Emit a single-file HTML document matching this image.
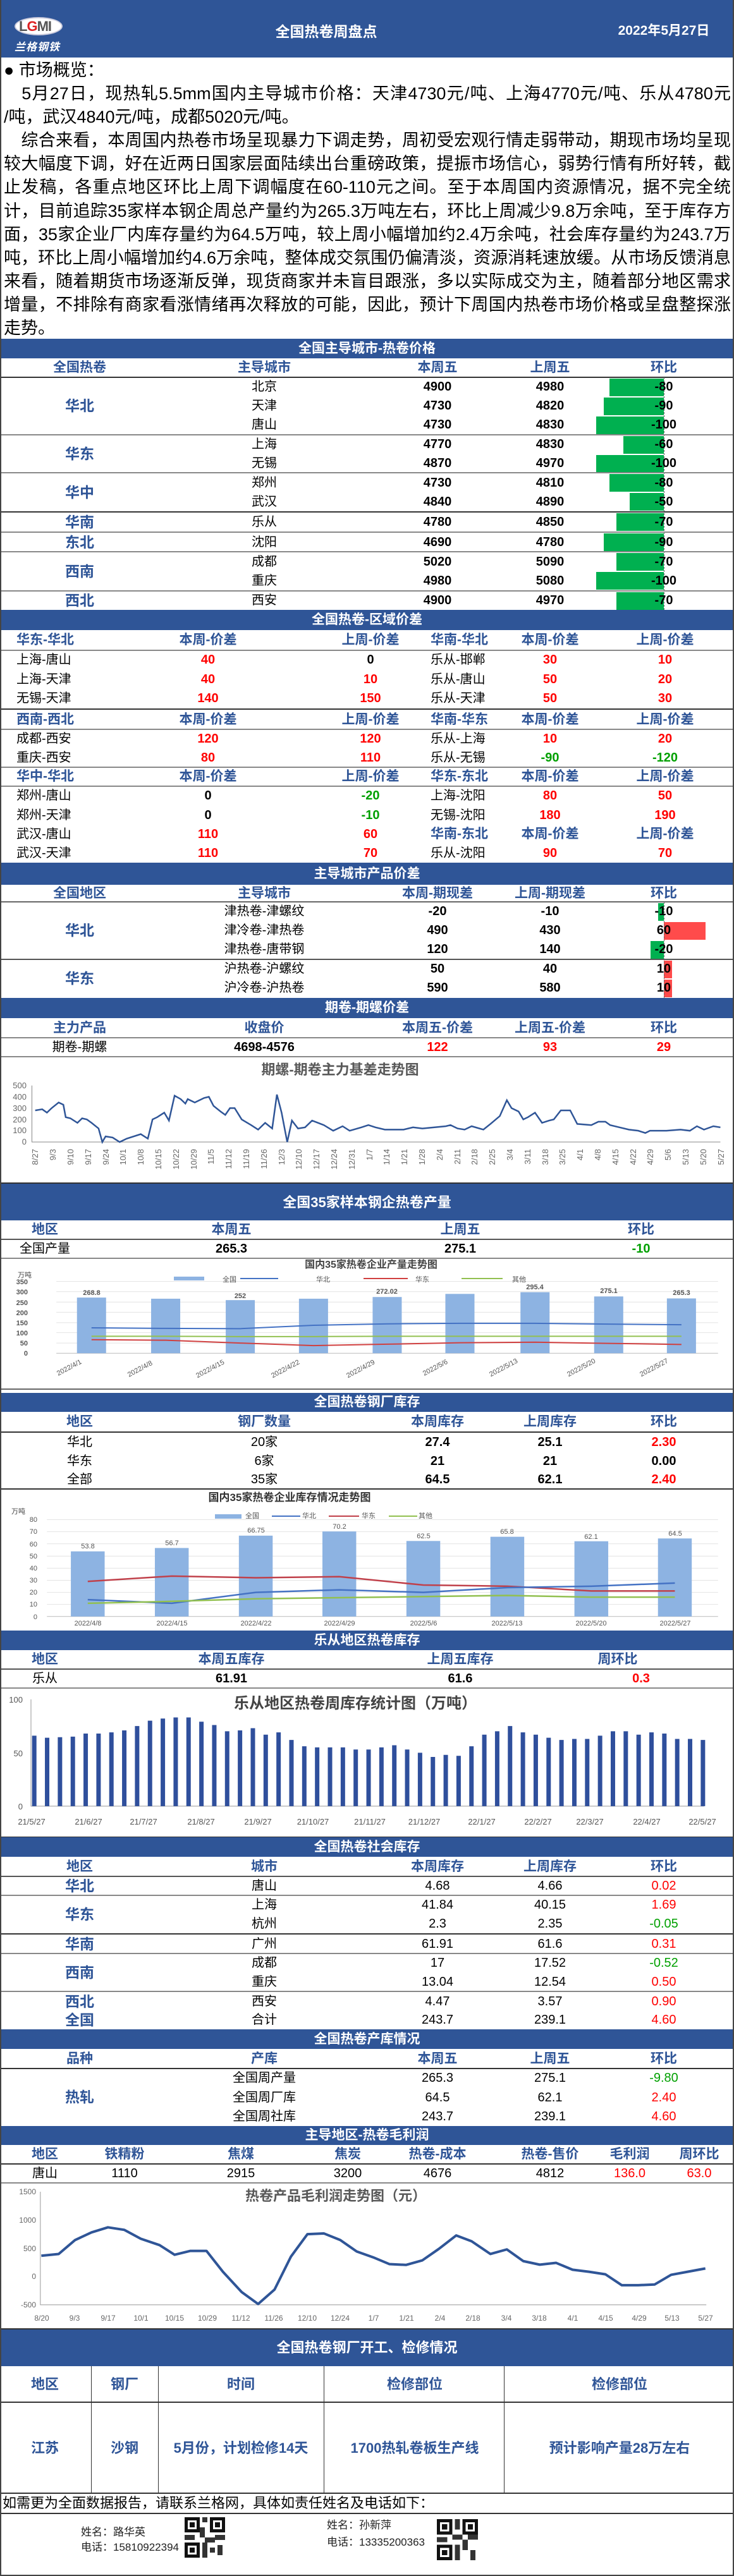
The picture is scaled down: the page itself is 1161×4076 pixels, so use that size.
<!DOCTYPE html>
<html><head><meta charset="utf-8">
<style>
*{margin:0;padding:0;box-sizing:border-box}
body{width:1161px;height:4076px;position:relative;background:#fff;overflow:hidden;font-family:"Liberation Sans Narrow","Liberation Sans","Noto Sans CJK SC",sans-serif;font-size:20px;color:#000}
.a{position:absolute;left:0;width:1161px}
.c{position:absolute;top:0;transform:translateX(-50%);white-space:nowrap}
.l{position:absolute;top:0;white-space:nowrap}
.band{background:#2f5597;color:#fff;font-weight:bold;text-align:center;font-size:21px}
.hd{color:#2f5597;font-weight:bold;font-size:21px}
.rg{color:#2f5597;font-weight:bold;font-size:23px}
.b{font-weight:bold}
.red{color:#f00}.grn{color:#00a000}
.ln{position:absolute;left:0;width:1161px;height:2px;background:#555}
.gb{position:absolute;background:#00b050}
.rb{position:absolute;background:#ff4b4b}
.p{position:absolute;left:6px;width:1150px;font-family:"Liberation Sans","Noto Sans CJK SC",sans-serif;font-size:27px;line-height:37px;white-space:nowrap;text-align:justify;text-align-last:justify}
svg text{font-family:"Liberation Sans","Noto Sans CJK SC",sans-serif}
</style></head><body>
<div style="position:absolute;left:0;top:0;width:1161px;height:4076px;border-left:2px solid #444;border-right:2px solid #444;border-bottom:2px solid #444;z-index:5;pointer-events:none"></div>

<!-- header -->
<div class="a" style="top:0;height:91px;background:#2f5597"></div>
<div style="position:absolute;left:23px;top:27px;width:76px;height:29px;border-radius:50%;background:#fff;border:2px solid #ccd"></div>
<div style="position:absolute;left:30px;top:29px;font:bold 22px 'Liberation Sans',sans-serif;color:#555;letter-spacing:-1px">L<span style="color:#d22">G</span>MI</div>
<div style="position:absolute;left:23px;top:60px;font:bold italic 17px 'Noto Sans CJK SC',sans-serif;color:#fff;letter-spacing:1px">兰格钢铁</div>
<div class="c" style="left:516px;top:31px;color:#fff;font-weight:bold;font-size:23px">全国热卷周盘点</div>
<div class="c" style="left:1050px;top:32px;color:#fff;font-weight:bold;font-size:21px">2022年5月27日</div>

<!-- paragraph -->
<div class="p" style="top:93px;text-align:left;text-align-last:left">● 市场概览：</div>
<div class="p" style="top:130px">　5月27日，现热轧5.5mm国内主导城市价格：天津4730元/吨、上海4770元/吨、乐从4780元</div>
<div class="p" style="top:167px;text-align:left;text-align-last:left">/吨，武汉4840元/吨，成都5020元/吨。</div>
<div class="p" style="top:204px">　综合来看，本周国内热卷市场呈现暴力下调走势，周初受宏观行情走弱带动，期现市场均呈现</div>
<div class="p" style="top:241px">较大幅度下调，好在近两日国家层面陆续出台重磅政策，提振市场信心，弱势行情有所好转，截</div>
<div class="p" style="top:278px">止发稿，各重点地区环比上周下调幅度在60-110元之间。至于本周国内资源情况，据不完全统</div>
<div class="p" style="top:316px">计，目前追踪35家样本钢企周总产量约为265.3万吨左右，环比上周减少9.8万余吨，至于库存方</div>
<div class="p" style="top:353px">面，35家企业厂内库存量约为64.5万吨，较上周小幅增加约2.4万余吨，社会库存量约为243.7万</div>
<div class="p" style="top:390px">吨，环比上周小幅增加约4.6万余吨，整体成交氛围仍偏清淡，资源消耗速放缓。从市场反馈消息</div>
<div class="p" style="top:427px">来看，随着期货市场逐渐反弹，现货商家并未盲目跟涨，多以实际成交为主，随着部分地区需求</div>
<div class="p" style="top:464px">增量，不排除有商家看涨情绪再次释放的可能，因此，预计下周国内热卷市场价格或呈盘整探涨</div>
<div class="p" style="top:501px;text-align:left;text-align-last:left">走势。</div>

<!-- main price table -->
<div class="a band" style="top:536px;height:31px;line-height:31px">全国主导城市-热卷价格</div>
<div class="a hd" style="top:567px;height:30px;line-height:30px"><span class="c" style="left:126px">全国热卷</span><span class="c" style="left:418px">主导城市</span><span class="c" style="left:692px">本周五</span><span class="c" style="left:870px">上周五</span><span class="c" style="left:1050px">环比</span></div>
<div class="ln" style="top:596px;background:#333"></div>
<!-- bars -->
<div class="gb" style="left:964px;top:599px;width:86px;height:28px"></div>
<div class="gb" style="left:955px;top:629px;width:95px;height:28px"></div>
<div class="gb" style="left:943px;top:659px;width:107px;height:28px"></div>
<div class="gb" style="left:986px;top:690px;width:64px;height:28px"></div>
<div class="gb" style="left:943px;top:720px;width:107px;height:28px"></div>
<div class="gb" style="left:964px;top:750px;width:86px;height:28px"></div>
<div class="gb" style="left:996px;top:780px;width:54px;height:28px"></div>
<div class="gb" style="left:975px;top:812px;width:75px;height:28px"></div>
<div class="gb" style="left:955px;top:844px;width:95px;height:28px"></div>
<div class="gb" style="left:975px;top:875px;width:75px;height:28px"></div>
<div class="gb" style="left:943px;top:905px;width:107px;height:28px"></div>
<div class="gb" style="left:975px;top:937px;width:75px;height:28px"></div>
<div style="position:absolute;left:1050px;top:597px;height:368px;border-left:1px dashed #666"></div>
<div class="a rg" style="top:597px;height:91px;line-height:91px"><span class="c" style="left:126px">华北</span></div>
<div class="a" style="top:597px;height:30px;line-height:30px"><span class="c" style="left:418px">北京</span><span class="c b" style="left:692px">4900</span><span class="c b" style="left:870px">4980</span><span class="c b" style="left:1050px">-80</span></div>
<div class="a" style="top:627px;height:30px;line-height:30px"><span class="c" style="left:418px">天津</span><span class="c b" style="left:692px">4730</span><span class="c b" style="left:870px">4820</span><span class="c b" style="left:1050px">-90</span></div>
<div class="a" style="top:657px;height:30px;line-height:30px"><span class="c" style="left:418px">唐山</span><span class="c b" style="left:692px">4730</span><span class="c b" style="left:870px">4830</span><span class="c b" style="left:1050px">-100</span></div>
<div class="ln" style="top:687px;background:#888"></div>
<div class="a rg" style="top:688px;height:60px;line-height:60px"><span class="c" style="left:126px">华东</span></div>
<div class="a" style="top:688px;height:30px;line-height:30px"><span class="c" style="left:418px">上海</span><span class="c b" style="left:692px">4770</span><span class="c b" style="left:870px">4830</span><span class="c b" style="left:1050px">-60</span></div>
<div class="a" style="top:718px;height:30px;line-height:30px"><span class="c" style="left:418px">无锡</span><span class="c b" style="left:692px">4870</span><span class="c b" style="left:870px">4970</span><span class="c b" style="left:1050px">-100</span></div>
<div class="ln" style="top:747px;background:#888"></div>
<div class="a rg" style="top:748px;height:62px;line-height:62px"><span class="c" style="left:126px">华中</span></div>
<div class="a" style="top:749px;height:30px;line-height:30px"><span class="c" style="left:418px">郑州</span><span class="c b" style="left:692px">4730</span><span class="c b" style="left:870px">4810</span><span class="c b" style="left:1050px">-80</span></div>
<div class="a" style="top:779px;height:30px;line-height:30px"><span class="c" style="left:418px">武汉</span><span class="c b" style="left:692px">4840</span><span class="c b" style="left:870px">4890</span><span class="c b" style="left:1050px">-50</span></div>
<div class="ln" style="top:809px;background:#333"></div>
<div class="a" style="top:811px;height:31px;line-height:31px"><span class="c rg" style="left:126px">华南</span><span class="c" style="left:418px">乐从</span><span class="c b" style="left:692px">4780</span><span class="c b" style="left:870px">4850</span><span class="c b" style="left:1050px">-70</span></div>
<div class="ln" style="top:841px;background:#888"></div>
<div class="a" style="top:843px;height:30px;line-height:30px"><span class="c rg" style="left:126px">东北</span><span class="c" style="left:418px">沈阳</span><span class="c b" style="left:692px">4690</span><span class="c b" style="left:870px">4780</span><span class="c b" style="left:1050px">-90</span></div>
<div class="ln" style="top:872px;background:#888"></div>
<div class="a rg" style="top:873px;height:62px;line-height:62px"><span class="c" style="left:126px">西南</span></div>
<div class="a" style="top:874px;height:30px;line-height:30px"><span class="c" style="left:418px">成都</span><span class="c b" style="left:692px">5020</span><span class="c b" style="left:870px">5090</span><span class="c b" style="left:1050px">-70</span></div>
<div class="a" style="top:904px;height:30px;line-height:30px"><span class="c" style="left:418px">重庆</span><span class="c b" style="left:692px">4980</span><span class="c b" style="left:870px">5080</span><span class="c b" style="left:1050px">-100</span></div>
<div class="ln" style="top:934px;background:#888"></div>
<div class="a" style="top:936px;height:29px;line-height:29px"><span class="c rg" style="left:126px">西北</span><span class="c" style="left:418px">西安</span><span class="c b" style="left:692px">4900</span><span class="c b" style="left:870px">4970</span><span class="c b" style="left:1050px">-70</span></div>

<!-- regional spread -->
<div class="a band" style="top:965px;height:32px;line-height:32px">全国热卷-区域价差</div>
<div class="a hd" style="top:997px;height:31px;line-height:31px"><span class="l" style="left:26px">华东-华北</span><span class="c" style="left:329px">本周-价差</span><span class="c" style="left:586px">上周-价差</span><span class="l" style="left:681px">华南-华北</span><span class="c" style="left:870px">本周-价差</span><span class="c" style="left:1052px">上周-价差</span></div>
<div class="ln" style="top:1028px;background:#888"></div>
<div class="a b" style="top:1029px;height:31px;line-height:31px"><span class="l" style="left:26px;font-weight:normal">上海-唐山</span><span class="c red" style="left:329px">40</span><span class="c" style="left:586px">0</span><span class="l" style="left:681px;font-weight:normal">乐从-邯郸</span><span class="c red" style="left:870px">30</span><span class="c red" style="left:1052px">10</span></div>
<div class="a b" style="top:1060px;height:30px;line-height:30px"><span class="l" style="left:26px;font-weight:normal">上海-天津</span><span class="c red" style="left:329px">40</span><span class="c red" style="left:586px">10</span><span class="l" style="left:681px;font-weight:normal">乐从-唐山</span><span class="c red" style="left:870px">50</span><span class="c red" style="left:1052px">20</span></div>
<div class="a b" style="top:1090px;height:31px;line-height:31px"><span class="l" style="left:26px;font-weight:normal">无锡-天津</span><span class="c red" style="left:329px">140</span><span class="c red" style="left:586px">150</span><span class="l" style="left:681px;font-weight:normal">乐从-天津</span><span class="c red" style="left:870px">50</span><span class="c red" style="left:1052px">30</span></div>
<div class="ln" style="top:1121px;background:#333"></div>
<div class="a hd" style="top:1123px;height:31px;line-height:31px"><span class="l" style="left:26px">西南-西北</span><span class="c" style="left:329px">本周-价差</span><span class="c" style="left:586px">上周-价差</span><span class="l" style="left:681px">华南-华东</span><span class="c" style="left:870px">本周-价差</span><span class="c" style="left:1052px">上周-价差</span></div>
<div class="ln" style="top:1153px;background:#888"></div>
<div class="a b" style="top:1154px;height:30px;line-height:30px"><span class="l" style="left:26px;font-weight:normal">成都-西安</span><span class="c red" style="left:329px">120</span><span class="c red" style="left:586px">120</span><span class="l" style="left:681px;font-weight:normal">乐从-上海</span><span class="c red" style="left:870px">10</span><span class="c red" style="left:1052px">20</span></div>
<div class="a b" style="top:1184px;height:30px;line-height:30px"><span class="l" style="left:26px;font-weight:normal">重庆-西安</span><span class="c red" style="left:329px">80</span><span class="c red" style="left:586px">110</span><span class="l" style="left:681px;font-weight:normal">乐从-无锡</span><span class="c grn" style="left:870px">-90</span><span class="c grn" style="left:1052px">-120</span></div>
<div class="ln" style="top:1213px;background:#888"></div>
<div class="a hd" style="top:1214px;height:30px;line-height:30px"><span class="l" style="left:26px">华中-华北</span><span class="c" style="left:329px">本周-价差</span><span class="c" style="left:586px">上周-价差</span><span class="l" style="left:681px">华东-东北</span><span class="c" style="left:870px">本周-价差</span><span class="c" style="left:1052px">上周-价差</span></div>
<div class="ln" style="top:1243px;background:#888"></div>
<div class="a b" style="top:1244px;height:31px;line-height:31px"><span class="l" style="left:26px;font-weight:normal">郑州-唐山</span><span class="c" style="left:329px">0</span><span class="c grn" style="left:586px">-20</span><span class="l" style="left:681px;font-weight:normal">上海-沈阳</span><span class="c red" style="left:870px">80</span><span class="c red" style="left:1052px">50</span></div>
<div class="a b" style="top:1275px;height:30px;line-height:30px"><span class="l" style="left:26px;font-weight:normal">郑州-天津</span><span class="c" style="left:329px">0</span><span class="c grn" style="left:586px">-10</span><span class="l" style="left:681px;font-weight:normal">无锡-沈阳</span><span class="c red" style="left:870px">180</span><span class="c red" style="left:1052px">190</span></div>
<div class="a b" style="top:1305px;height:30px;line-height:30px"><span class="l" style="left:26px;font-weight:normal">武汉-唐山</span><span class="c red" style="left:329px">110</span><span class="c red" style="left:586px">60</span><span class="l hd" style="left:681px">华南-东北</span><span class="c hd" style="left:870px">本周-价差</span><span class="c hd" style="left:1052px">上周-价差</span></div>
<div class="a b" style="top:1335px;height:30px;line-height:30px"><span class="l" style="left:26px;font-weight:normal">武汉-天津</span><span class="c red" style="left:329px">110</span><span class="c red" style="left:586px">70</span><span class="l" style="left:681px;font-weight:normal">乐从-沈阳</span><span class="c red" style="left:870px">90</span><span class="c red" style="left:1052px">70</span></div>

<!-- product spread -->
<div class="a band" style="top:1365px;height:35px;line-height:35px">主导城市产品价差</div>
<div class="a hd" style="top:1400px;height:27px;line-height:27px"><span class="c" style="left:126px">全国地区</span><span class="c" style="left:418px">主导城市</span><span class="c" style="left:692px">本周-期现差</span><span class="c" style="left:870px">上周-期现差</span><span class="c" style="left:1050px">环比</span></div>
<div class="ln" style="top:1426px;background:#666"></div>
<div class="gb" style="left:1041px;top:1429px;width:9px;height:28px"></div>
<div class="rb" style="left:1050px;top:1459px;width:66px;height:28px"></div>
<div class="gb" style="left:1029px;top:1489px;width:21px;height:28px"></div>
<div class="rb" style="left:1050px;top:1520px;width:13px;height:28px"></div>
<div class="rb" style="left:1050px;top:1550px;width:13px;height:28px"></div>
<div style="position:absolute;left:1050px;top:1427px;height:152px;border-left:1px dashed #666"></div>
<div class="a rg" style="top:1427px;height:91px;line-height:91px"><span class="c" style="left:126px">华北</span></div>
<div class="a" style="top:1427px;height:31px;line-height:31px"><span class="c" style="left:418px">津热卷-津螺纹</span><span class="c b" style="left:692px">-20</span><span class="c b" style="left:870px">-10</span><span class="c b" style="left:1050px">-10</span></div>
<div class="a" style="top:1457px;height:31px;line-height:31px"><span class="c" style="left:418px">津冷卷-津热卷</span><span class="c b" style="left:692px">490</span><span class="c b" style="left:870px">430</span><span class="c b" style="left:1050px">60</span></div>
<div class="a" style="top:1487px;height:31px;line-height:31px"><span class="c" style="left:418px">津热卷-唐带钢</span><span class="c b" style="left:692px">120</span><span class="c b" style="left:870px">140</span><span class="c b" style="left:1050px">-20</span></div>
<div class="ln" style="top:1517px;background:#555"></div>
<div class="a rg" style="top:1518px;height:61px;line-height:61px"><span class="c" style="left:126px">华东</span></div>
<div class="a" style="top:1518px;height:31px;line-height:31px"><span class="c" style="left:418px">沪热卷-沪螺纹</span><span class="c b" style="left:692px">50</span><span class="c b" style="left:870px">40</span><span class="c b" style="left:1050px">10</span></div>
<div class="a" style="top:1548px;height:31px;line-height:31px"><span class="c" style="left:418px">沪冷卷-沪热卷</span><span class="c b" style="left:692px">590</span><span class="c b" style="left:870px">580</span><span class="c b" style="left:1050px">10</span></div>

<!-- futures spread -->
<div class="a band" style="top:1579px;height:32px;line-height:32px">期卷-期螺价差</div>
<div class="a hd" style="top:1611px;height:31px;line-height:31px"><span class="c" style="left:126px">主力产品</span><span class="c" style="left:418px">收盘价</span><span class="c" style="left:692px">本周五-价差</span><span class="c" style="left:870px">上周五-价差</span><span class="c" style="left:1050px">环比</span></div>
<div class="ln" style="top:1641px;background:#888"></div>
<div class="a b" style="top:1642px;height:30px;line-height:30px"><span class="c" style="left:126px;font-weight:normal">期卷-期螺</span><span class="c" style="left:418px">4698-4576</span><span class="c red" style="left:692px">122</span><span class="c red" style="left:870px">93</span><span class="c red" style="left:1050px">29</span></div>
<div class="ln" style="top:1671px;background:#888"></div>

<!-- chart 1 -->
<svg style="position:absolute;left:0;top:1672px" width="1161" height="199">
<text x="538" y="28" text-anchor="middle" font-size="22" font-weight="bold" fill="#595959">期螺-期卷主力基差走势图</text>
<g font-size="13" fill="#666" text-anchor="end">
<text x="42" y="50">500</text><text x="42" y="68">400</text><text x="42" y="86">300</text><text x="42" y="104">200</text><text x="42" y="121">100</text><text x="42" y="139">0</text>
</g>
<svg x="0" y="0" width="1161" height="199" viewBox="0 608 1564 445" preserveAspectRatio="none">
<path d="M68 710V910H1535" fill="none" stroke="#888" stroke-width="1" vector-effect="non-scaling-stroke"/>
<polyline fill="none" stroke="#2f5597" stroke-width="2.5" vector-effect="non-scaling-stroke" points="75,798 90,794 100,806 110,790 125,770 135,778 140,822 150,826 165,842 175,826 185,830 195,842 210,862 218,910 225,890 240,894 255,910 270,898 300,882 315,898 325,830 335,822 350,806 360,834 372,746 385,758 395,774 400,758 415,770 425,762 435,754 445,750 455,782 470,802 480,814 490,790 500,790 515,830 535,850 550,866 565,842 580,862 590,742 600,806 612,910 622,834 635,862 650,858 665,834 690,850 710,870 730,854 745,870 770,858 785,850 800,858 820,866 860,866 880,858 900,862 950,854 960,850 975,862 990,866 1005,854 1030,866 1045,846 1065,818 1080,762 1090,790 1105,802 1115,830 1125,822 1140,806 1155,842 1170,834 1180,830 1195,798 1215,798 1230,846 1260,850 1275,838 1290,838 1300,850 1320,858 1340,866 1360,870 1375,878 1385,870 1420,870 1450,866 1470,870 1485,854 1500,866 1520,854 1535,858"/>
</svg>
<g font-size="13" fill="#666" text-anchor="end">
<text transform="translate(60,146) rotate(-90)">8/27</text><text transform="translate(88,146) rotate(-90)">9/3</text><text transform="translate(116,146) rotate(-90)">9/10</text><text transform="translate(144,146) rotate(-90)">9/17</text><text transform="translate(172,146) rotate(-90)">9/24</text><text transform="translate(199,146) rotate(-90)">10/1</text><text transform="translate(227,146) rotate(-90)">10/8</text><text transform="translate(255,146) rotate(-90)">10/15</text><text transform="translate(283,146) rotate(-90)">10/22</text><text transform="translate(311,146) rotate(-90)">10/29</text><text transform="translate(338,146) rotate(-90)">11/5</text><text transform="translate(366,146) rotate(-90)">11/12</text><text transform="translate(394,146) rotate(-90)">11/19</text><text transform="translate(422,146) rotate(-90)">11/26</text><text transform="translate(450,146) rotate(-90)">12/3</text><text transform="translate(477,146) rotate(-90)">12/10</text><text transform="translate(505,146) rotate(-90)">12/17</text><text transform="translate(533,146) rotate(-90)">12/24</text><text transform="translate(561,146) rotate(-90)">12/31</text><text transform="translate(589,146) rotate(-90)">1/7</text><text transform="translate(616,146) rotate(-90)">1/14</text><text transform="translate(644,146) rotate(-90)">1/21</text><text transform="translate(672,146) rotate(-90)">1/28</text><text transform="translate(700,146) rotate(-90)">2/4</text><text transform="translate(728,146) rotate(-90)">2/11</text><text transform="translate(755,146) rotate(-90)">2/18</text><text transform="translate(783,146) rotate(-90)">2/25</text><text transform="translate(811,146) rotate(-90)">3/4</text><text transform="translate(839,146) rotate(-90)">3/11</text><text transform="translate(867,146) rotate(-90)">3/18</text><text transform="translate(894,146) rotate(-90)">3/25</text><text transform="translate(922,146) rotate(-90)">4/1</text><text transform="translate(950,146) rotate(-90)">4/8</text><text transform="translate(978,146) rotate(-90)">4/15</text><text transform="translate(1006,146) rotate(-90)">4/22</text><text transform="translate(1033,146) rotate(-90)">4/29</text><text transform="translate(1061,146) rotate(-90)">5/6</text><text transform="translate(1089,146) rotate(-90)">5/13</text><text transform="translate(1117,146) rotate(-90)">5/20</text><text transform="translate(1145,146) rotate(-90)">5/27</text>
</g>
</svg>

<!-- production -->
<div class="a band" style="top:1871px;height:60px;line-height:60px;font-size:22px;border-top:2px solid #333">全国35家样本钢企热卷产量</div>
<div class="a hd" style="top:1931px;height:30px;line-height:30px"><span class="c" style="left:71px">地区</span><span class="c" style="left:366px">本周五</span><span class="c" style="left:728px">上周五</span><span class="c" style="left:1014px">环比</span></div>
<div class="ln" style="top:1960px;background:#555"></div>
<div class="a b" style="top:1961px;height:30px;line-height:30px"><span class="c" style="left:71px;font-weight:normal">全国产量</span><span class="c" style="left:366px">265.3</span><span class="c" style="left:728px">275.1</span><span class="c grn" style="left:1014px">-10</span></div>
<div class="ln" style="top:1990px;background:#888"></div>

<!-- chart 2 -->
<svg style="position:absolute;left:0;top:1991px" width="1161" height="207">
<svg x="0" y="0" width="1161" height="207" viewBox="0 1325 1564 463" preserveAspectRatio="none">
<g stroke="#e4e4e4" vector-effect="non-scaling-stroke"><path d="M120 1407H1530M120 1443H1530M120 1480H1530M120 1516H1530M120 1553H1530M120 1588H1530M120 1625H1530" vector-effect="non-scaling-stroke"/></g>
<path d="M120 1661H1530" stroke="#bbb" vector-effect="non-scaling-stroke"/>
<g fill="#8db3e2"><rect x="164" y="1464" width="62" height="197"/><rect x="322" y="1468" width="62" height="193"/><rect x="481" y="1473" width="62" height="188"/><rect x="637" y="1468" width="62" height="193"/><rect x="794" y="1462" width="62" height="199"/><rect x="949" y="1451" width="62" height="210"/><rect x="1109" y="1445" width="62" height="216"/><rect x="1266" y="1460" width="62" height="201"/><rect x="1421" y="1467" width="62" height="194"/></g>
<polyline fill="none" stroke="#4472c4" stroke-width="2" vector-effect="non-scaling-stroke" points="195,1571 353,1573 512,1574 668,1562 825,1557 980,1555 1140,1555 1297,1558 1452,1560"/>
<polyline fill="none" stroke="#d04040" stroke-width="2" vector-effect="non-scaling-stroke" points="195,1613 353,1615 512,1625 668,1634 825,1629 980,1624 1140,1622 1297,1626 1452,1630"/>
<polyline fill="none" stroke="#92c050" stroke-width="2" vector-effect="non-scaling-stroke" points="195,1601 353,1601 512,1602 668,1602 825,1601 980,1601 1140,1601 1297,1601 1452,1601"/>
</svg>
<text x="587" y="15" text-anchor="middle" font-size="16" font-weight="bold" fill="#444">国内35家热卷企业产量走势图</text>
<text x="28" y="30" font-size="11" fill="#444">万吨</text>
<g font-size="11" fill="#555"><rect x="275" y="29" width="48" height="6" fill="#8db3e2"/><text x="352" y="37">全国</text><line x1="380" y1="32" x2="440" y2="32" stroke="#4472c4" stroke-width="2"/><text x="500" y="37">华北</text><line x1="575" y1="32" x2="645" y2="32" stroke="#d04040" stroke-width="2"/><text x="657" y="37">华东</text><line x1="730" y1="32" x2="795" y2="32" stroke="#92c050" stroke-width="2"/><text x="810" y="37">其他</text></g>
<g font-size="11" fill="#555" font-weight="bold" text-anchor="end"><text x="44" y="41">350</text><text x="44" y="57">300</text><text x="44" y="74">250</text><text x="44" y="90">200</text><text x="44" y="106">150</text><text x="44" y="122">100</text><text x="44" y="138">50</text><text x="44" y="154">0</text></g>
<g font-size="11" fill="#555" font-weight="bold" text-anchor="middle"><text x="145" y="58">268.8</text><text x="380" y="63">252</text><text x="612" y="56">272.02</text><text x="846" y="49">295.4</text><text x="963" y="55">275.1</text><text x="1078" y="58">265.3</text></g>
<g font-size="11" fill="#555" text-anchor="middle"><text transform="translate(111,176) rotate(-28)">2022/4/1</text><text transform="translate(223,178) rotate(-28)">2022/4/8</text><text transform="translate(334,178) rotate(-28)">2022/4/15</text><text transform="translate(453,178) rotate(-28)">2022/4/22</text><text transform="translate(572,178) rotate(-28)">2022/4/29</text><text transform="translate(690,176) rotate(-28)">2022/5/6</text><text transform="translate(798,176) rotate(-28)">2022/5/13</text><text transform="translate(921,176) rotate(-28)">2022/5/20</text><text transform="translate(1036,176) rotate(-28)">2022/5/27</text></g>
</svg>
<div class="ln" style="top:2197px;background:#666"></div>

<!-- mill stock -->
<div class="a band" style="top:2204px;height:30px;line-height:30px">全国热卷钢厂库存</div>
<div class="a hd" style="top:2234px;height:31px;line-height:31px"><span class="c" style="left:126px">地区</span><span class="c" style="left:418px">钢厂数量</span><span class="c" style="left:692px">本周库存</span><span class="c" style="left:870px">上周库存</span><span class="c" style="left:1050px">环比</span></div>
<div class="ln" style="top:2265px;background:#333"></div>
<div class="a" style="top:2267px;height:30px;line-height:30px"><span class="c" style="left:126px">华北</span><span class="c" style="left:418px">20家</span><span class="c b" style="left:692px">27.4</span><span class="c b" style="left:870px">25.1</span><span class="c b red" style="left:1050px">2.30</span></div>
<div class="a" style="top:2297px;height:30px;line-height:30px"><span class="c" style="left:126px">华东</span><span class="c" style="left:418px">6家</span><span class="c b" style="left:692px">21</span><span class="c b" style="left:870px">21</span><span class="c b" style="left:1050px">0.00</span></div>
<div class="a" style="top:2327px;height:29px;line-height:29px"><span class="c" style="left:126px">全部</span><span class="c" style="left:418px">35家</span><span class="c b" style="left:692px">64.5</span><span class="c b" style="left:870px">62.1</span><span class="c b red" style="left:1050px">2.40</span></div>
<div class="ln" style="top:2355px;background:#333"></div>

<!-- chart 3 -->
<svg style="position:absolute;left:0;top:2357px" width="1161" height="223">
<svg x="0" y="0" width="1161" height="223" viewBox="0 573 1564 502" preserveAspectRatio="none">
<path d="M100 680H1530M100 723H1530M100 766H1530M100 810H1530M100 853H1530M100 896H1530M100 939H1530M100 982H1530" stroke="#e4e4e4" vector-effect="non-scaling-stroke"/>
<path d="M100 1025H1530" stroke="#bbb" vector-effect="non-scaling-stroke"/>
<g fill="#8db3e2"><rect x="151" y="793" width="72" height="232"/><rect x="330" y="781" width="72" height="244"/><rect x="509" y="737" width="72" height="288"/><rect x="687" y="722" width="72" height="303"/><rect x="866" y="756" width="72" height="269"/><rect x="1045" y="741" width="72" height="284"/><rect x="1224" y="757" width="72" height="268"/><rect x="1402" y="747" width="72" height="278"/></g>
<polyline fill="none" stroke="#c0404a" stroke-width="2.5" vector-effect="non-scaling-stroke" points="187,900 366,881 545,887 723,883 902,913 1081,917 1260,934 1438,934"/>
<polyline fill="none" stroke="#4472c4" stroke-width="2.5" vector-effect="non-scaling-stroke" points="187,965 366,978 545,939 723,930 902,939 1081,922 1260,917 1438,906"/>
<polyline fill="none" stroke="#92c050" stroke-width="2.5" vector-effect="non-scaling-stroke" points="187,978 366,971 545,962 723,958 902,954 1081,950 1260,956 1438,956"/>
</svg>
<text x="458" y="18" text-anchor="middle" font-size="17" font-weight="bold" fill="#333">国内35家热卷企业库存情况走势图</text>
<text x="18" y="38" font-size="11" fill="#444">万吨</text>
<g font-size="11" fill="#555"><rect x="340" y="39" width="42" height="7" fill="#8db3e2"/><text x="388" y="45">全国</text><line x1="430" y1="42" x2="475" y2="42" stroke="#4472c4" stroke-width="2"/><text x="478" y="45">华北</text><line x1="520" y1="42" x2="568" y2="42" stroke="#c0404a" stroke-width="2"/><text x="572" y="45">华东</text><line x1="615" y1="42" x2="660" y2="42" stroke="#92c050" stroke-width="2"/><text x="662" y="45">其他</text></g>
<g font-size="11" fill="#555" text-anchor="end"><text x="59" y="51">80</text><text x="59" y="70">70</text><text x="59" y="90">60</text><text x="59" y="109">50</text><text x="59" y="128">40</text><text x="59" y="147">30</text><text x="59" y="166">20</text><text x="59" y="185">10</text><text x="59" y="205">0</text></g>
<g font-size="11" fill="#555" text-anchor="middle"><text x="139" y="93">53.8</text><text x="272" y="88">56.7</text><text x="405" y="68">66.75</text><text x="537" y="62">70.2</text><text x="670" y="77">62.5</text><text x="802" y="70">65.8</text><text x="935" y="78">62.1</text><text x="1068" y="73">64.5</text>
<text x="139" y="215">2022/4/8</text><text x="272" y="215">2022/4/15</text><text x="405" y="215">2022/4/22</text><text x="537" y="215">2022/4/29</text><text x="670" y="215">2022/5/6</text><text x="802" y="215">2022/5/13</text><text x="935" y="215">2022/5/20</text><text x="1068" y="215">2022/5/27</text></g>
</svg>

<!-- lecong -->
<div class="a band" style="top:2580px;height:31px;line-height:31px">乐从地区热卷库存</div>
<div class="a hd" style="top:2611px;height:30px;line-height:30px"><span class="c" style="left:71px">地区</span><span class="c" style="left:366px">本周五库存</span><span class="c" style="left:728px">上周五库存</span><span class="c" style="left:977px">周环比</span></div>
<div class="ln" style="top:2640px;background:#555"></div>
<div class="a b" style="top:2641px;height:30px;line-height:30px"><span class="c" style="left:71px;font-weight:normal">乐从</span><span class="c" style="left:366px">61.91</span><span class="c" style="left:728px">61.6</span><span class="c red" style="left:1014px">0.3</span></div>
<div class="ln" style="top:2670px;background:#888"></div>

<!-- chart 4 -->
<svg style="position:absolute;left:0;top:2671px" width="1161" height="236">
<svg x="0" y="0" width="1161" height="236" viewBox="0 1280 1564 528" preserveAspectRatio="none">
<path d="M66 1320V1698H1500" fill="none" stroke="#999" vector-effect="non-scaling-stroke"/>
<path fill="none" stroke="#2f4f9c" stroke-width="7" vector-effect="non-scaling-stroke" d="M73 1448.5V1698M100.4 1456V1698M127.8 1454V1698M155.2 1452V1698M182.6 1441V1698M210 1441V1698M237.4 1437V1698M264.8 1430V1698M292.2 1414.5V1698M319.6 1395.6V1698M347 1388V1698M374.4 1384V1698M401.8 1384V1698M429.2 1399V1698M456.6 1411V1698M484 1433V1698M511.4 1430V1698M538.8 1422V1698M566.2 1445V1698M593.6 1437V1698M621 1463.6V1698M648.4 1486V1698M675.8 1490V1698M703.2 1490V1698M730.6 1490V1698M758 1497.7V1698M785.4 1497.7V1698M812.8 1490V1698M840.2 1482.5V1698M867.6 1497.7V1698M895 1509V1698M922.4 1524V1698M949.8 1516.6V1698M977.2 1520V1698M1004.6 1486V1698M1032 1445V1698M1059.4 1433V1698M1086.8 1414.5V1698M1114.2 1437V1698M1141.6 1445V1698M1169 1456V1698M1196.4 1463.6V1698M1223.8 1460V1698M1251.2 1460V1698M1278.6 1448.5V1698M1306 1433V1698M1333.4 1433V1698M1360.8 1445V1698M1388.2 1437V1698M1415.6 1441V1698M1443 1460V1698M1470.4 1460V1698M1497.8 1463.6V1698"/>
</svg>
<text x="562" y="32" text-anchor="middle" font-size="24" font-weight="bold" fill="#444">乐从地区热卷周库存统计图（万吨）</text>
<g font-size="13" fill="#555" text-anchor="end"><text x="36" y="23">100</text><text x="36" y="108">50</text><text x="36" y="192">0</text></g>
<g font-size="13" fill="#555" text-anchor="middle"><text x="50" y="216">21/5/27</text><text x="140" y="216">21/6/27</text><text x="227" y="216">21/7/27</text><text x="318" y="216">21/8/27</text><text x="408" y="216">21/9/27</text><text x="495" y="216">21/10/27</text><text x="585" y="216">21/11/27</text><text x="671" y="216">21/12/27</text><text x="762" y="216">22/1/27</text><text x="851" y="216">22/2/27</text><text x="933" y="216">22/3/27</text><text x="1023" y="216">22/4/27</text><text x="1111" y="216">22/5/27</text></g>
</svg>
<div class="ln" style="top:2906px;background:#333"></div>

<!-- social stock -->
<div class="a band" style="top:2907px;height:31px;line-height:31px">全国热卷社会库存</div>
<div class="a hd" style="top:2938px;height:31px;line-height:31px"><span class="c" style="left:126px">地区</span><span class="c" style="left:418px">城市</span><span class="c" style="left:692px">本周库存</span><span class="c" style="left:870px">上周库存</span><span class="c" style="left:1050px">环比</span></div>
<div class="ln" style="top:2968px;background:#555"></div>
<div class="a" style="top:2969px;height:30px;line-height:30px"><span class="c rg" style="left:126px">华北</span><span class="c" style="left:418px">唐山</span><span class="c" style="left:692px">4.68</span><span class="c" style="left:870px">4.66</span><span class="c red" style="left:1050px">0.02</span></div>
<div class="ln" style="top:2998px;background:#888"></div>
<div class="a rg" style="top:2999px;height:61px;line-height:61px"><span class="c" style="left:126px">华东</span></div>
<div class="a" style="top:2999px;height:31px;line-height:31px"><span class="c" style="left:418px">上海</span><span class="c" style="left:692px">41.84</span><span class="c" style="left:870px">40.15</span><span class="c red" style="left:1050px">1.69</span></div>
<div class="a" style="top:3029px;height:31px;line-height:31px"><span class="c" style="left:418px">杭州</span><span class="c" style="left:692px">2.3</span><span class="c" style="left:870px">2.35</span><span class="c grn" style="left:1050px">-0.05</span></div>
<div class="ln" style="top:3059px;background:#333"></div>
<div class="a" style="top:3061px;height:30px;line-height:30px"><span class="c rg" style="left:126px">华南</span><span class="c" style="left:418px">广州</span><span class="c" style="left:692px">61.91</span><span class="c" style="left:870px">61.6</span><span class="c red" style="left:1050px">0.31</span></div>
<div class="ln" style="top:3090px;background:#888"></div>
<div class="a rg" style="top:3091px;height:60px;line-height:60px"><span class="c" style="left:126px">西南</span></div>
<div class="a" style="top:3091px;height:31px;line-height:31px"><span class="c" style="left:418px">成都</span><span class="c" style="left:692px">17</span><span class="c" style="left:870px">17.52</span><span class="c grn" style="left:1050px">-0.52</span></div>
<div class="a" style="top:3121px;height:31px;line-height:31px"><span class="c" style="left:418px">重庆</span><span class="c" style="left:692px">13.04</span><span class="c" style="left:870px">12.54</span><span class="c red" style="left:1050px">0.50</span></div>
<div class="ln" style="top:3150px;background:#888"></div>
<div class="a" style="top:3152px;height:30px;line-height:30px"><span class="c rg" style="left:126px">西北</span><span class="c" style="left:418px">西安</span><span class="c" style="left:692px">4.47</span><span class="c" style="left:870px">3.57</span><span class="c red" style="left:1050px">0.90</span></div>
<div class="a" style="top:3182px;height:29px;line-height:29px"><span class="c rg" style="left:126px">全国</span><span class="c" style="left:418px">合计</span><span class="c" style="left:692px">243.7</span><span class="c" style="left:870px">239.1</span><span class="c red" style="left:1050px">4.60</span></div>

<!-- prod/stock -->
<div class="a band" style="top:3211px;height:31px;line-height:31px">全国热卷产库情况</div>
<div class="a hd" style="top:3242px;height:31px;line-height:31px"><span class="c" style="left:126px">品种</span><span class="c" style="left:418px">产库</span><span class="c" style="left:692px">本周五</span><span class="c" style="left:870px">上周五</span><span class="c" style="left:1050px">环比</span></div>
<div class="ln" style="top:3272px;background:#333"></div>
<div class="a rg" style="top:3273px;height:91px;line-height:91px"><span class="c" style="left:126px">热轧</span></div>
<div class="a" style="top:3273px;height:31px;line-height:31px"><span class="c" style="left:418px">全国周产量</span><span class="c" style="left:692px">265.3</span><span class="c" style="left:870px">275.1</span><span class="c grn" style="left:1050px">-9.80</span></div>
<div class="a" style="top:3304px;height:30px;line-height:30px"><span class="c" style="left:418px">全国周厂库</span><span class="c" style="left:692px">64.5</span><span class="c" style="left:870px">62.1</span><span class="c red" style="left:1050px">2.40</span></div>
<div class="a" style="top:3334px;height:30px;line-height:30px"><span class="c" style="left:418px">全国周社库</span><span class="c" style="left:692px">243.7</span><span class="c" style="left:870px">239.1</span><span class="c red" style="left:1050px">4.60</span></div>

<!-- margin -->
<div class="a band" style="top:3364px;height:30px;line-height:30px">主导地区-热卷毛利润</div>
<div class="a hd" style="top:3394px;height:30px;line-height:30px"><span class="c" style="left:71px">地区</span><span class="c" style="left:197px">铁精粉</span><span class="c" style="left:381px">焦煤</span><span class="c" style="left:550px">焦炭</span><span class="c" style="left:692px">热卷-成本</span><span class="c" style="left:870px">热卷-售价</span><span class="c" style="left:996px">毛利润</span><span class="c" style="left:1106px">周环比</span></div>
<div class="ln" style="top:3423px;background:#333"></div>
<div class="a" style="top:3424px;height:30px;line-height:30px"><span class="c" style="left:71px">唐山</span><span class="c" style="left:197px">1110</span><span class="c" style="left:381px">2915</span><span class="c" style="left:550px">3200</span><span class="c" style="left:692px">4676</span><span class="c" style="left:870px">4812</span><span class="c red" style="left:996px">136.0</span><span class="c red" style="left:1106px">63.0</span></div>
<div class="ln" style="top:3453px;background:#888"></div>

<!-- chart 5 -->
<svg style="position:absolute;left:0;top:3454px" width="1161" height="231">
<svg x="0" y="0" width="1161" height="231" viewBox="0 10 1564 575" preserveAspectRatio="none">
<path d="M86 45V490H1505" fill="none" stroke="#999" vector-effect="non-scaling-stroke"/>
<polyline fill="none" stroke="#2f5597" stroke-width="4" stroke-linejoin="round" vector-effect="non-scaling-stroke" points="88,297 125,290 160,235 195,205 230,185 265,195 300,230 340,255 372,293 405,278 440,278 475,360 515,440 550,487 585,430 620,300 655,212 690,209 725,235 760,280 795,303 830,330 865,333 900,315 935,270 972,217 1005,240 1045,290 1080,272 1115,318 1150,332 1185,325 1220,352 1255,360 1290,370 1325,413 1360,413 1395,410 1430,372 1465,360 1503,347"/>
</svg>
<text x="531" y="28" text-anchor="middle" font-size="22" font-weight="bold" fill="#595959">热卷产品毛利润走势图（元）</text>
<g font-size="12" fill="#666" text-anchor="end"><text x="57" y="18">1500</text><text x="57" y="63">1000</text><text x="57" y="108">500</text><text x="57" y="152">0</text><text x="57" y="197">-500</text></g>
<g font-size="12" fill="#666" text-anchor="middle"><text x="66" y="218">8/20</text><text x="118" y="218">9/3</text><text x="171" y="218">9/17</text><text x="223" y="218">10/1</text><text x="276" y="218">10/15</text><text x="328" y="218">10/29</text><text x="381" y="218">11/12</text><text x="433" y="218">11/26</text><text x="486" y="218">12/10</text><text x="538" y="218">12/24</text><text x="591" y="218">1/7</text><text x="643" y="218">1/21</text><text x="696" y="218">2/4</text><text x="748" y="218">2/18</text><text x="801" y="218">3/4</text><text x="853" y="218">3/18</text><text x="906" y="218">4/1</text><text x="958" y="218">4/15</text><text x="1011" y="218">4/29</text><text x="1063" y="218">5/13</text><text x="1116" y="218">5/27</text></g>
</svg>
<div class="ln" style="top:3684px;background:#333"></div>

<!-- maintenance -->
<div class="a band" style="top:3686px;height:58px;line-height:58px;font-size:22px">全国热卷钢厂开工、检修情况</div>
<div class="a hd" style="top:3744px;height:57px;line-height:57px;font-size:22px"><span class="c" style="left:71px">地区</span><span class="c" style="left:197px">钢厂</span><span class="c" style="left:381px">时间</span><span class="c" style="left:656px">检修部位</span><span class="c" style="left:980px">检修部位</span></div>
<div class="ln" style="top:3800px;background:#333"></div>
<div class="a hd" style="top:3802px;height:143px;line-height:143px;font-size:22px"><span class="c" style="left:71px">江苏</span><span class="c" style="left:197px">沙钢</span><span class="c" style="left:381px">5月份，计划检修14天</span><span class="c" style="left:656px">1700热轧卷板生产线</span><span class="c" style="left:980px">预计影响产量28万左右</span></div>
<div style="position:absolute;left:144px;top:3744px;width:1px;height:201px;background:#333"></div>
<div style="position:absolute;left:250px;top:3744px;width:1px;height:201px;background:#333"></div>
<div style="position:absolute;left:512px;top:3744px;width:1px;height:201px;background:#333"></div>
<div style="position:absolute;left:797px;top:3744px;width:1px;height:201px;background:#333"></div>
<div class="ln" style="top:3944px;background:#333"></div>
<div class="a" style="top:3946px;height:30px;line-height:30px;font-size:22px"><span class="l" style="left:4px">如需更为全面数据报告，请联系兰格网，具体如责任姓名及电话如下：</span></div>
<div class="ln" style="top:3976px;background:#333"></div>

<!-- contacts -->
<div style="position:absolute;left:128px;top:3992px;font-size:17px;color:#222">姓名：路华英</div>
<div style="position:absolute;left:128px;top:4016px;font-size:17px;color:#222">电话：15810922394</div>
<div style="position:absolute;left:517px;top:3981px;font-size:17px;color:#222">姓名：孙新萍</div>
<div style="position:absolute;left:517px;top:4008px;font-size:17px;color:#222">电话：13335200363</div>
<svg style="position:absolute;left:292px;top:3982px" width="64" height="66" viewBox="0 0 8 8" shape-rendering="crispEdges">
<rect width="8" height="8" fill="#fff"/>
<path d="M0 0h3v3h-3zM5 0h3v3h-3zM0 5h3v3h-3z" fill="#111"/><path d="M.6 .6h1.8v1.8h-1.8zM5.6 .6h1.8v1.8h-1.8zM.6 5.6h1.8v1.8h-1.8z" fill="#fff"/><path d="M1 1h1v1h-1zM6 1h1v1h-1zM1 6h1v1h-1z" fill="#111"/>
<path d="M3.5 0h1v1h-1zM3 2h1v2h-1zM4 4h2v1h-2zM6 3.5h2v1h-2zM3.5 5h1v3h-1zM5 6h1v1h-1zM6.5 5.5h1v2h-1zM0 3.5h2v1h-2z" fill="#333"/>
</svg>
<svg style="position:absolute;left:691px;top:3985px" width="65" height="67" viewBox="0 0 8 8" shape-rendering="crispEdges">
<rect width="8" height="8" fill="#fff"/>
<path d="M0 0h3v3h-3zM5 0h3v3h-3zM0 5h3v3h-3z" fill="#111"/><path d="M.6 .6h1.8v1.8h-1.8zM5.6 .6h1.8v1.8h-1.8zM.6 5.6h1.8v1.8h-1.8z" fill="#fff"/><path d="M1 1h1v1h-1zM6 1h1v1h-1zM1 6h1v1h-1z" fill="#111"/>
<path d="M3.5 0h1v2h-1zM3 3h2v1h-2zM5 4h1v2h-1zM6 3h2v1h-2zM3.5 5h1v3h-1zM6.5 6h1v2h-1zM0 3.5h2v1h-2z" fill="#333"/>
</svg>
</body></html>
